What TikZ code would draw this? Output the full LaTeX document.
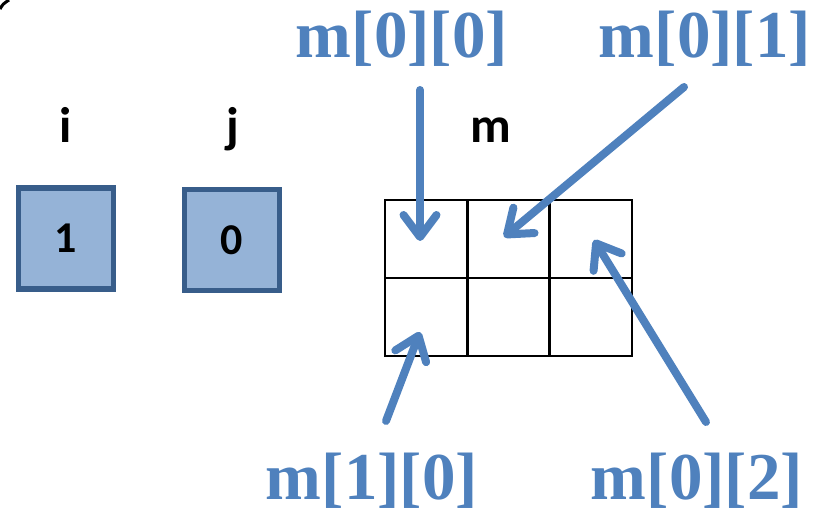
\documentclass[tikz,border=0pt]{standalone}
\usepackage{fontspec}
\newfontfamily\calib{Carlito}
\newfontfamily\timesf{Liberation Serif}
\usetikzlibrary{arrows.meta}
\definecolor{boxfill}{HTML}{95B3D7}
\definecolor{boxline}{HTML}{385D8A}
\definecolor{arrblue}{HTML}{4F81BD}
\begin{document}
\begin{tikzpicture}[x=1pt,y=-1pt,
  varbox/.style={draw=boxline, line width=5.5pt, fill=boxfill, minimum width=95pt, minimum height=101pt, inner sep=0pt, font=\calib\bfseries\fontsize{44}{44}\selectfont},
  varname/.style={font=\calib\bfseries\fontsize{50}{50}\selectfont, inner sep=0pt, anchor=base},
  cell/.style={draw=black, line width=2.5pt, minimum width=82.3pt, minimum height=78pt, inner sep=0pt},
  idx/.style={text=arrblue, font=\timesf\bfseries\fontsize{67}{67}\selectfont, inner sep=0pt, anchor=base},
  ptr/.style={draw=arrblue, line width=8pt, line cap=round, -{Straight Barb[length=22pt,width=33pt,line cap=round,line join=round]}}]
\useasboundingbox (0,0) rectangle (823,508);
% fragment at top left
\draw[line width=3pt] (0,9) .. controls (3,4) .. (9,0);
% variables
\node[varbox] (bi) at (66,238.5) {1};
\node[varbox] (bj) at (232,240) {0};
\node[varname] (ni) at (66,143) {i};
\node[varname] (nj) at (233,143) {j};
\node[varname] (nm) at (491,143) {m};
% grid
\node[cell] (c00) at (426.2,239) {};
\node[cell] (c01) at (508.5,239) {};
\node[cell] (c02) at (590.8,239) {};
\node[cell] (c10) at (426.2,317) {};
\node[cell] (c11) at (508.5,317) {};
\node[cell] (c12) at (590.8,317) {};
% labels
\node[idx] (l00) at (402,58) {m[0][0]};
\node[idx] (l01) at (705,58) {m[0][1]};
\node[idx] (l10) at (372,499) {m[1][0]};
\node[idx] (l02) at (697,499) {m[0][2]};
% arrow ends
\coordinate (s00) at (420,90);
\coordinate (t00) at (420,241);
\coordinate (s01) at (684,87);
\coordinate (t01) at (504,237);
\coordinate (s10) at (386,421);
\coordinate (t10) at (420,332);
\coordinate (s02) at (706,422);
\coordinate (t02) at (594,240);
\draw[ptr] (s00) -- (t00);
\draw[ptr] (s01) -- (t01);
\draw[ptr] (s10) -- (t10);
\draw[ptr] (s02) -- (t02);
\end{tikzpicture}
\end{document}
